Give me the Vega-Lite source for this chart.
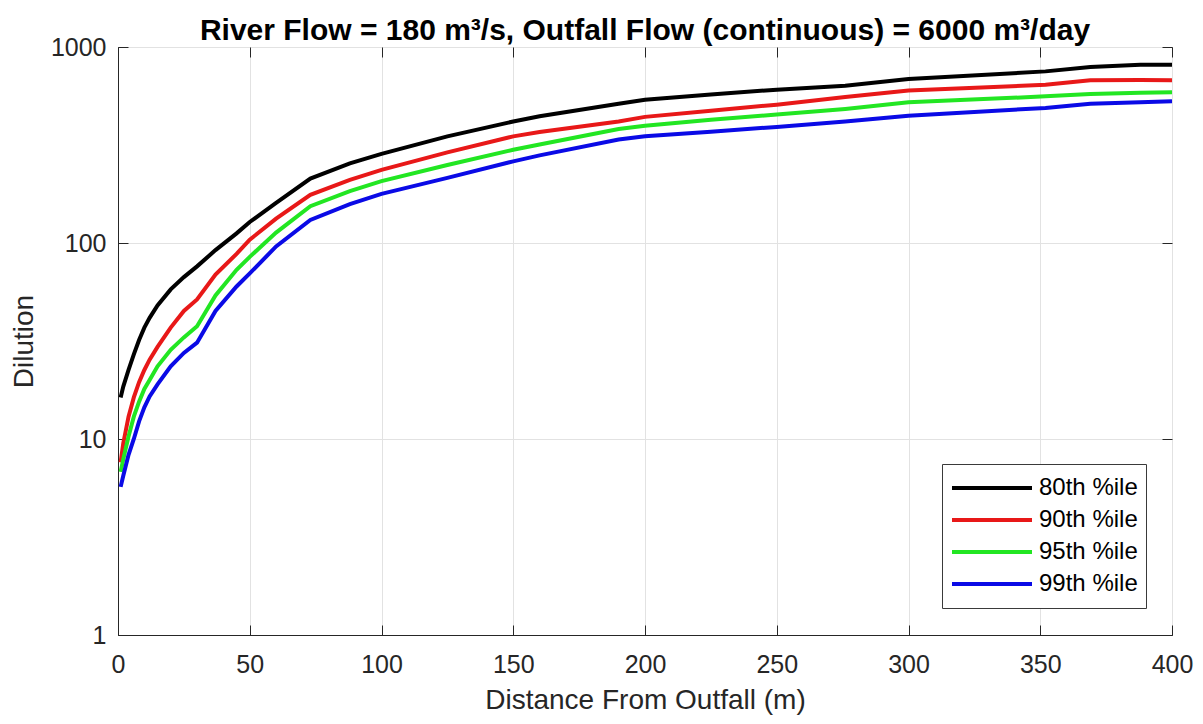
{
  "$schema": "https://vega.github.io/schema/vega-lite/v6.json",
  "width": 1054,
  "height": 588,
  "autosize": {"type": "none"},
  "padding": {"left": 118, "top": 47, "right": 31, "bottom": 89},
  "background": "white",
  "title": {
    "text": "River Flow = 180 m³/s, Outfall Flow (continuous) = 6000 m³/day",
    "font": "Liberation Sans",
    "fontSize": 30,
    "fontWeight": "bold",
    "color": "#000000",
    "anchor": "middle",
    "offset": 7,
    "dy": 18
  },
  "config": {
    "view": {"stroke": "#262626", "strokeWidth": 1},
    "axis": {
      "labelFont": "Liberation Sans",
      "labelFontSize": 25,
      "labelColor": "#262626",
      "titleFont": "Liberation Sans",
      "titleFontSize": 28,
      "titleFontWeight": "normal",
      "titleColor": "#262626",
      "domainColor": "#262626",
      "tickColor": "#262626",
      "gridColor": "#e2e2e2",
      "gridWidth": 1
    }
  },
  "datasets": {
    "dil": [
      {"d": 1, "v": 16.3, "s": "80th %ile"}, {"d": 2, "v": 18.5, "s": "80th %ile"}, {"d": 4, "v": 22.5, "s": "80th %ile"}, {"d": 6, "v": 27, "s": "80th %ile"},
      {"d": 8, "v": 32, "s": "80th %ile"}, {"d": 10, "v": 37, "s": "80th %ile"}, {"d": 12, "v": 41.5, "s": "80th %ile"},
      {"d": 15, "v": 48, "s": "80th %ile"}, {"d": 20, "v": 58, "s": "80th %ile"}, {"d": 25, "v": 67, "s": "80th %ile"}, {"d": 30, "v": 76, "s": "80th %ile"},
      {"d": 37, "v": 92, "s": "80th %ile"}, {"d": 45, "v": 112, "s": "80th %ile"}, {"d": 50, "v": 128, "s": "80th %ile"}, {"d": 60, "v": 160, "s": "80th %ile"},
      {"d": 73, "v": 213, "s": "80th %ile"}, {"d": 88, "v": 255, "s": "80th %ile"}, {"d": 100, "v": 285, "s": "80th %ile"}, {"d": 125, "v": 350, "s": "80th %ile"},
      {"d": 150, "v": 417, "s": "80th %ile"}, {"d": 160, "v": 443, "s": "80th %ile"}, {"d": 190, "v": 514, "s": "80th %ile"}, {"d": 200, "v": 538, "s": "80th %ile"},
      {"d": 225, "v": 572, "s": "80th %ile"}, {"d": 250, "v": 606, "s": "80th %ile"}, {"d": 276, "v": 635, "s": "80th %ile"}, {"d": 300, "v": 687, "s": "80th %ile"},
      {"d": 352, "v": 751, "s": "80th %ile"}, {"d": 369, "v": 791, "s": "80th %ile"}, {"d": 388, "v": 812, "s": "80th %ile"}, {"d": 400, "v": 812, "s": "80th %ile"},

      {"d": 1, "v": 7.6, "s": "90th %ile"}, {"d": 2, "v": 9.5, "s": "90th %ile"}, {"d": 4, "v": 13, "s": "90th %ile"}, {"d": 6, "v": 16.3, "s": "90th %ile"},
      {"d": 8, "v": 19.5, "s": "90th %ile"}, {"d": 10, "v": 22.5, "s": "90th %ile"}, {"d": 12, "v": 25.4, "s": "90th %ile"},
      {"d": 15, "v": 29.5, "s": "90th %ile"}, {"d": 20, "v": 37, "s": "90th %ile"}, {"d": 25, "v": 45, "s": "90th %ile"}, {"d": 30, "v": 51.5, "s": "90th %ile"},
      {"d": 37, "v": 69, "s": "90th %ile"}, {"d": 45, "v": 88, "s": "90th %ile"}, {"d": 50, "v": 104, "s": "90th %ile"}, {"d": 60, "v": 133, "s": "90th %ile"},
      {"d": 73, "v": 176, "s": "90th %ile"}, {"d": 88, "v": 210, "s": "90th %ile"}, {"d": 100, "v": 236, "s": "90th %ile"}, {"d": 125, "v": 290, "s": "90th %ile"},
      {"d": 150, "v": 350, "s": "90th %ile"}, {"d": 160, "v": 368, "s": "90th %ile"}, {"d": 190, "v": 417, "s": "90th %ile"}, {"d": 200, "v": 440, "s": "90th %ile"},
      {"d": 225, "v": 473, "s": "90th %ile"}, {"d": 250, "v": 508, "s": "90th %ile"}, {"d": 276, "v": 556, "s": "90th %ile"}, {"d": 300, "v": 600, "s": "90th %ile"},
      {"d": 352, "v": 642, "s": "90th %ile"}, {"d": 369, "v": 676, "s": "90th %ile"}, {"d": 388, "v": 678, "s": "90th %ile"}, {"d": 400, "v": 676, "s": "90th %ile"},

      {"d": 1, "v": 6.8, "s": "95th %ile"}, {"d": 2, "v": 7.9, "s": "95th %ile"}, {"d": 4, "v": 10.3, "s": "95th %ile"}, {"d": 6, "v": 13, "s": "95th %ile"},
      {"d": 8, "v": 15.5, "s": "95th %ile"}, {"d": 10, "v": 18, "s": "95th %ile"}, {"d": 12, "v": 20, "s": "95th %ile"},
      {"d": 15, "v": 23.5, "s": "95th %ile"}, {"d": 20, "v": 28.5, "s": "95th %ile"}, {"d": 25, "v": 33, "s": "95th %ile"}, {"d": 30, "v": 37.6, "s": "95th %ile"},
      {"d": 37, "v": 54, "s": "95th %ile"}, {"d": 45, "v": 73, "s": "95th %ile"}, {"d": 50, "v": 85, "s": "95th %ile"}, {"d": 60, "v": 113, "s": "95th %ile"},
      {"d": 73, "v": 154, "s": "95th %ile"}, {"d": 88, "v": 184, "s": "95th %ile"}, {"d": 100, "v": 207, "s": "95th %ile"}, {"d": 125, "v": 250, "s": "95th %ile"},
      {"d": 150, "v": 299, "s": "95th %ile"}, {"d": 160, "v": 318, "s": "95th %ile"}, {"d": 190, "v": 382, "s": "95th %ile"}, {"d": 200, "v": 396, "s": "95th %ile"},
      {"d": 225, "v": 425, "s": "95th %ile"}, {"d": 250, "v": 452, "s": "95th %ile"}, {"d": 276, "v": 483, "s": "95th %ile"}, {"d": 300, "v": 522, "s": "95th %ile"},
      {"d": 352, "v": 560, "s": "95th %ile"}, {"d": 369, "v": 576, "s": "95th %ile"}, {"d": 388, "v": 585, "s": "95th %ile"}, {"d": 400, "v": 587, "s": "95th %ile"},

      {"d": 1, "v": 5.7, "s": "99th %ile"}, {"d": 2, "v": 6.5, "s": "99th %ile"}, {"d": 4, "v": 8.3, "s": "99th %ile"}, {"d": 6, "v": 10, "s": "99th %ile"},
      {"d": 8, "v": 12.3, "s": "99th %ile"}, {"d": 10, "v": 14.5, "s": "99th %ile"}, {"d": 12, "v": 16.5, "s": "99th %ile"},
      {"d": 15, "v": 19, "s": "99th %ile"}, {"d": 20, "v": 23.5, "s": "99th %ile"}, {"d": 25, "v": 27.5, "s": "99th %ile"}, {"d": 30, "v": 31, "s": "99th %ile"},
      {"d": 37, "v": 45, "s": "99th %ile"}, {"d": 45, "v": 60, "s": "99th %ile"}, {"d": 50, "v": 70, "s": "99th %ile"}, {"d": 60, "v": 96, "s": "99th %ile"},
      {"d": 73, "v": 131, "s": "99th %ile"}, {"d": 88, "v": 158, "s": "99th %ile"}, {"d": 100, "v": 178, "s": "99th %ile"}, {"d": 125, "v": 215, "s": "99th %ile"},
      {"d": 150, "v": 261, "s": "99th %ile"}, {"d": 160, "v": 280, "s": "99th %ile"}, {"d": 190, "v": 337, "s": "99th %ile"}, {"d": 200, "v": 350, "s": "99th %ile"},
      {"d": 225, "v": 370, "s": "99th %ile"}, {"d": 250, "v": 391, "s": "99th %ile"}, {"d": 276, "v": 417, "s": "99th %ile"}, {"d": 300, "v": 446, "s": "99th %ile"},
      {"d": 352, "v": 489, "s": "99th %ile"}, {"d": 369, "v": 514, "s": "99th %ile"}, {"d": 388, "v": 522, "s": "99th %ile"}, {"d": 400, "v": 528, "s": "99th %ile"}
    ]
  },
  "data": {"name": "dil"},
  "layer": [
    {
      "mark": {"type": "line", "strokeWidth": 4, "clip": true},
      "encoding": {
        "x": {
          "field": "d", "type": "quantitative",
          "scale": {"domain": [0, 400], "nice": false, "zero": false},
          "axis": {
            "orient": "bottom",
            "values": [0, 50, 100, 150, 200, 250, 300, 350, 400],
            "title": "Distance From Outfall (m)",
            "tickSize": -10,
            "labelPadding": 27,
            "labelFlush": false,
            "titleY": 73,
            "titleBaseline": "alphabetic"
          }
        },
        "y": {
          "field": "v", "type": "quantitative",
          "scale": {"type": "log", "domain": [1, 1000], "nice": false},
          "axis": {
            "orient": "left",
            "values": [1, 10, 100, 1000],
            "format": "d",
            "title": "Dilution",
            "tickSize": -10,
            "labelPadding": 22,
            "labelFlush": false,
            "titleX": -86,
            "titleY": 294,
            "titleBaseline": "alphabetic"
          }
        },
        "color": {
          "field": "s", "type": "nominal",
          "scale": {
            "domain": ["80th %ile", "90th %ile", "95th %ile", "99th %ile"],
            "range": ["#000000", "#e81818", "#22e622", "#0a0ae6"]
          },
          "legend": {
            "orient": "none",
            "legendX": 824,
            "legendY": 417,
            "title": null,
            "symbolType": "stroke",
            "symbolSize": 6400,
            "symbolStrokeWidth": 4,
            "labelFont": "Liberation Sans",
            "labelFontSize": 24,
            "labelColor": "#000000",
            "labelOffset": 5,
            "strokeColor": "#3a3a3a",
            "fillColor": "white",
            "padding": 8,
            "clipHeight": 32,
            "rowPadding": 0
          }
        }
      }
    },
    {
      "mark": {"type": "line", "strokeOpacity": 0},
      "encoding": {
        "x": {
          "field": "d", "type": "quantitative",
          "axis": {
            "orient": "top",
            "values": [0, 50, 100, 150, 200, 250, 300, 350, 400],
            "labels": false, "title": null, "grid": false, "domain": false,
            "tickSize": -10
          }
        },
        "y": {
          "field": "v", "type": "quantitative",
          "axis": {
            "orient": "right",
            "values": [1, 10, 100, 1000],
            "labels": false, "title": null, "grid": false, "domain": false,
            "tickSize": -10
          }
        },
        "detail": {"field": "s", "type": "nominal"}
      }
    }
  ]
}
